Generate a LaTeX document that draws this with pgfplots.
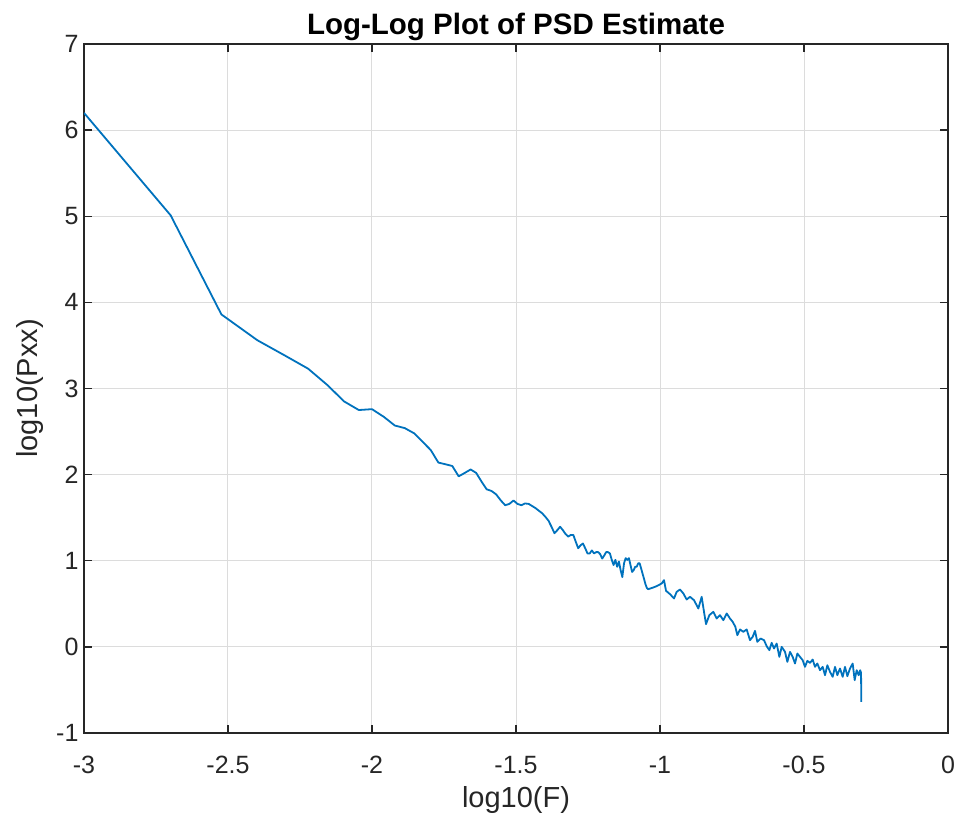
\documentclass[border=0pt]{standalone}
\usepackage{fontspec}
\setmainfont{Liberation Sans}
\usepackage{pgfplots}
\pgfplotsset{compat=1.18}
\definecolor{mblue}{rgb}{0,0.447,0.741}
\definecolor{axgray}{HTML}{262626}
\definecolor{gridgray}{HTML}{DCDCDC}
\begin{document}
\begin{tikzpicture}[x=1pt,y=1pt]
\path[use as bounding box] (-84,-88) rectangle (878,733);
\begin{axis}[
  at={(0,0)}, anchor=south west,
  scale only axis,
  width=864pt, height=689pt,
  xmin=-3, xmax=0, ymin=-1, ymax=7,
  xtick={-3,-2.5,...,0}, ytick={-1,0,...,7},
  xticklabels={-3,-2.5,-2,-1.5,-1,-0.5,0},
  yticklabels={-1,0,1,2,3,4,5,6,7},
  grid=major,
  major grid style={gridgray, line width=1pt},
  axis line style={axgray, line width=1.3pt},
  tick style={axgray, line width=1.3pt},
  major tick length=8pt,
  tick align=inside,
  ticklabel style={font=\fontsize{25}{30}\selectfont, text=axgray},
  xticklabel style={yshift=-20pt},
  yticklabel style={xshift=-2pt},
  xlabel={log10(F)}, ylabel={log10(Pxx)},
  label style={font=\fontsize{29}{34}\selectfont, text=axgray},
  xlabel style={at={(axis description cs:0.5,-0.0972)}, anchor=center},
  ylabel style={at={(axis description cs:-0.0625,0.5)}, anchor=center},
  title={\bfseries Log-Log Plot of PSD Estimate},
  title style={font=\fontsize{29.5}{35}\selectfont, yshift=-6pt},
]
\addplot[mblue, line width=1.8pt, line join=round] coordinates {
(-3.0000,6.20) (-2.6990,5.01) (-2.5229,3.86) (-2.3979,3.56) (-2.3010,3.38)
(-2.2218,3.23) (-2.1549,3.04) (-2.0969,2.85) (-2.0458,2.75) (-2.0000,2.76)
(-1.9586,2.67) (-1.9208,2.57) (-1.8861,2.54) (-1.8539,2.48) (-1.8239,2.38)
(-1.7959,2.285) (-1.7696,2.14) (-1.7447,2.12) (-1.7212,2.10) (-1.6990,1.98)
(-1.6778,2.02) (-1.6576,2.06) (-1.6383,2.02) (-1.6198,1.92) (-1.6021,1.83)
(-1.5850,1.81) (-1.5686,1.77) (-1.5528,1.70) (-1.5376,1.645) (-1.5229,1.66)
(-1.5086,1.70) (-1.4949,1.66) (-1.4815,1.645) (-1.4685,1.665) (-1.4559,1.66)
(-1.4437,1.635) (-1.4318,1.61) (-1.4202,1.58) (-1.4089,1.55) (-1.3979,1.51)
(-1.3872,1.465) (-1.3768,1.395) (-1.3665,1.32) (-1.3565,1.355) (-1.3468,1.395)
(-1.3372,1.355) (-1.3279,1.31) (-1.3188,1.28) (-1.3098,1.30) (-1.3010,1.30)
(-1.2924,1.22) (-1.2840,1.145) (-1.2757,1.18) (-1.2676,1.20) (-1.2596,1.145)
(-1.2518,1.085) (-1.2441,1.085) (-1.2366,1.12) (-1.2291,1.085) (-1.2218,1.10)
(-1.2147,1.10) (-1.2076,1.076) (-1.2007,1.025) (-1.1938,1.06) (-1.1871,1.10)
(-1.1805,1.10) (-1.1739,1.085) (-1.1675,1.01) (-1.1612,0.95) (-1.1549,1.01)
(-1.1487,0.93) (-1.1427,0.99) (-1.1367,0.89) (-1.1308,0.81) (-1.1249,0.97)
(-1.1192,1.03) (-1.1135,1.01) (-1.1079,1.03) (-1.1024,0.95) (-1.0969,0.87)
(-1.0915,0.89) (-1.0862,0.93) (-1.0809,0.93) (-1.0757,0.97) (-1.0706,0.97)
(-1.0655,0.91) (-1.0605,0.85) (-1.0555,0.79) (-1.0506,0.73) (-1.0458,0.685)
(-1.0410,0.67) (-1.0231,0.690) (-1.0115,0.705) (-0.9942,0.736) (-0.9861,0.775)
(-0.9791,0.651) (-0.9652,0.612) (-0.9513,0.562) (-0.9421,0.639) (-0.9305,0.666)
(-0.9189,0.620) (-0.9074,0.550) (-0.8958,0.581) (-0.8819,0.542) (-0.8669,0.446)
(-0.8553,0.581) (-0.8472,0.407) (-0.8402,0.264) (-0.8287,0.368) (-0.8148,0.407)
(-0.8032,0.329) (-0.7916,0.368) (-0.7800,0.310) (-0.7685,0.388) (-0.7569,0.329)
(-0.7476,0.291) (-0.7384,0.233) (-0.7314,0.136) (-0.7222,0.202) (-0.7106,0.175)
(-0.6990,0.202) (-0.6875,0.078) (-0.6782,0.117) (-0.6701,0.186) (-0.6620,0.058)
(-0.6504,0.097) (-0.6388,0.078) (-0.6296,0.008) (-0.6203,-0.038) (-0.6122,0.047)
(-0.6041,-0.019) (-0.5949,0.039) (-0.5856,-0.116) (-0.5775,0.000) (-0.5659,-0.058)
(-0.5578,-0.174) (-0.5486,-0.058) (-0.5393,-0.116) (-0.5312,-0.193) (-0.5231,-0.077)
(-0.5138,-0.116) (-0.5046,-0.155) (-0.4965,-0.232) (-0.4884,-0.162) (-0.4791,-0.186)
(-0.4699,-0.147) (-0.4618,-0.232) (-0.4537,-0.193) (-0.4444,-0.271) (-0.4351,-0.232)
(-0.4270,-0.329) (-0.4189,-0.213) (-0.4097,-0.290) (-0.4004,-0.348) (-0.3923,-0.232)
(-0.3842,-0.329) (-0.3750,-0.251) (-0.3657,-0.348) (-0.3576,-0.232) (-0.3495,-0.340)
(-0.3402,-0.251) (-0.3310,-0.193) (-0.3240,-0.387) (-0.3171,-0.271) (-0.3101,-0.329)
(-0.3050,-0.271) (-0.3019,-0.300) (-0.30103,-0.64)
};
\end{axis}
\end{tikzpicture}
\end{document}
